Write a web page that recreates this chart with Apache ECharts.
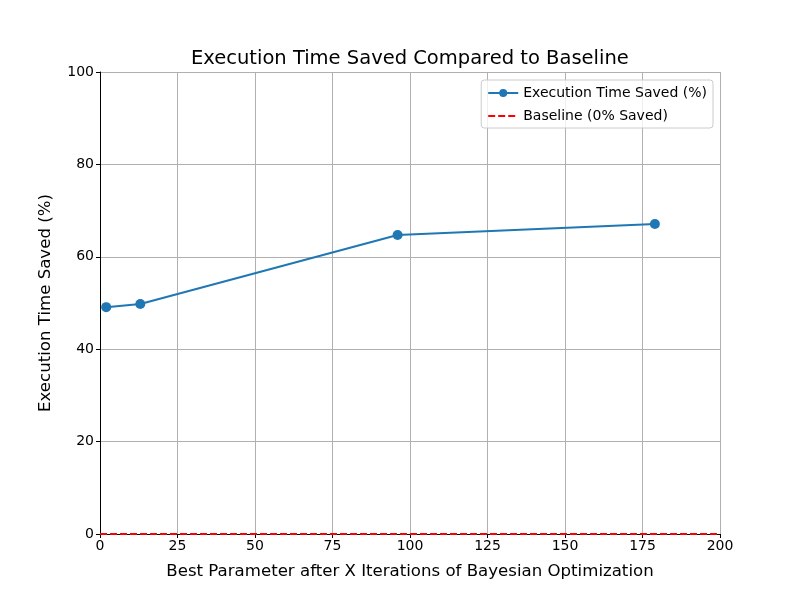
<!DOCTYPE html>
<html>
<head>
<meta charset="utf-8">
<script src="https://cdn.jsdelivr.net/npm/echarts@6/dist/echarts.min.js"></script>
<style>
html, body { margin: 0; padding: 0; background: #fff; }
#chart { width: 800px; height: 600px; }
</style>
</head>
<body>
<div id="chart"></div>
<script>
var iterations = [2, 13, 96, 179];
var timeSaved = [49.1, 49.8, 64.7, 67.1];
var baselineX = [0, 200];
var baselineY = [0, 0];

var savedData = [];
for (var i = 0; i < iterations.length; i++) {
    savedData.push([iterations[i], timeSaved[i]]);
}
var baseData = [];
for (var j = 0; j < baselineX.length; j++) {
    baseData.push([baselineX[j], baselineY[j]]);
}

var font = 'DejaVu Sans';
var chart = echarts.init(document.getElementById('chart'));
var option = {
    animation: false,
    textStyle: { fontFamily: font },
    title: {
        text: 'Execution Time Saved Compared to Baseline',
        left: 186,
        top: 44,
        textStyle: { fontFamily: font, fontSize: 19.5, fontWeight: 'normal', color: '#000' }
    },
    legend: {
        orient: 'vertical',
        right: 87,
        top: 80,
        itemWidth: 30,
        itemHeight: 10,
        itemGap: 9,
        padding: [6, 6, 5, 6],
        borderColor: '#cccccc',
        borderWidth: 1,
        borderRadius: 3,
        backgroundColor: 'rgba(255,255,255,0.8)',
        align: 'left',
        textStyle: { fontFamily: font, fontSize: 14, color: '#000' },
        data: [
            { name: 'Execution Time Saved (%)' },
            { name: 'Baseline (0% Saved)', itemStyle: { opacity: 0 } }
        ]
    },
    grid: { left: 100, right: 80, top: 72, bottom: 66, containLabel: false },
    xAxis: {
        type: 'value',
        min: 0,
        max: 200,
        interval: 25,
        name: 'Best Parameter after X Iterations of Bayesian Optimization',
        nameLocation: 'middle',
        nameGap: 29,
        nameTextStyle: { fontFamily: font, fontSize: 16.6, color: '#000' },
        axisLine: { show: true, lineStyle: { color: '#000', width: 1 } },
        axisTick: { show: true, length: 4, lineStyle: { color: '#000' } },
        axisLabel: { fontFamily: font, fontSize: 14, color: '#000', margin: 5 },
        splitLine: { show: true, lineStyle: { color: '#b0b0b0', width: 1 } }
    },
    yAxis: {
        type: 'value',
        min: 0,
        max: 100,
        interval: 20,
        name: 'Execution Time Saved (%)',
        nameLocation: 'middle',
        nameGap: 46,
        nameTextStyle: { fontFamily: font, fontSize: 16.6, color: '#000' },
        axisLine: { show: true, lineStyle: { color: '#000', width: 1 } },
        axisTick: { show: true, length: 4, lineStyle: { color: '#000' } },
        axisLabel: { fontFamily: font, fontSize: 14, color: '#000', margin: 6 },
        splitLine: { show: true, lineStyle: { color: '#b0b0b0', width: 1 } }
    },
    series: [{
        name: 'Execution Time Saved (%)',
        type: 'line',
        data: savedData,
        symbol: 'circle',
        symbolSize: 10,
        lineStyle: { color: '#1f77b4', width: 2 },
        itemStyle: { color: '#1f77b4' },
        z: 3
    }, {
        name: 'Baseline (0% Saved)',
        type: 'line',
        data: baseData,
        symbol: 'none',
        lineStyle: { color: '#ff0000', width: 2, type: [7, 3] },
        itemStyle: { color: '#ff0000' },
        z: 4
    }]
};
chart.setOption(option);
</script>
</body>
</html>
